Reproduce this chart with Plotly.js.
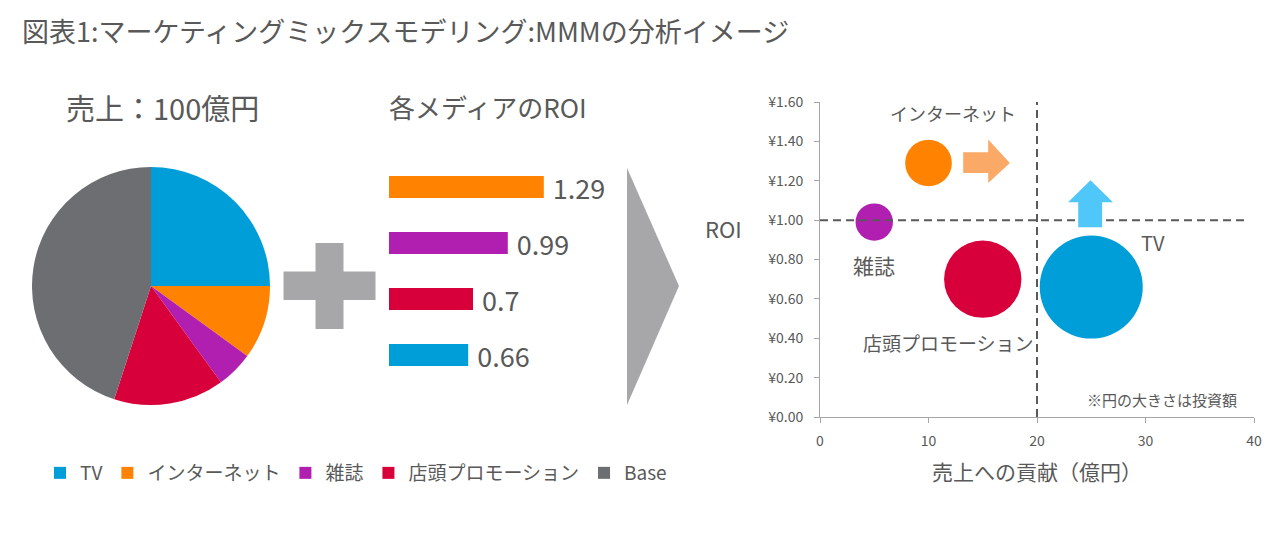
<!DOCTYPE html>
<html>
<head>
<meta charset="utf-8">
<script src="https://cdn.plot.ly/plotly-3.0.1.min.js"></script>
<style>html,body{margin:0;padding:0;background:#fff;}#chart{width:1283px;height:534px;}</style>
</head>
<body>
<div id="chart"></div>
<script>
// ---- data ----
var mediaNames = ['TV', 'インターネット', '雑誌', '店頭プロモーション', 'Base'];
var salesShare = [25, 10, 5, 15, 45];                 // 売上 100億円 の内訳
var roiNames = ['インターネット', '雑誌', '店頭プロモーション', 'TV'];
var roiValues = [1.29, 0.99, 0.70, 0.66];
var bubbleNames = ['TV', 'インターネット', '雑誌', '店頭プロモーション'];
var contribution = [25, 10, 5, 15];                   // 売上への貢献（億円）
var bubbleRoi = [0.66, 1.29, 0.99, 0.70];
var investment = [38, 7.8, 5.0, 21.4];                // 円の大きさ = 投資額
var bubbleLabels = ['TV', 'インターネット', '雑誌', '店頭プロモーション'];
var yTicks = [0, 0.2, 0.4, 0.6, 0.8, 1.0, 1.2, 1.4, 1.6];
var xTicks = [0, 10, 20, 30, 40];

// ---- styles ----
var FONT = '"Noto Sans CJK JP", "Noto Sans", sans-serif';
var TXT = '#595959';
var colorMap = {'TV': '#009ED8', 'インターネット': '#FF8200', '雑誌': '#B01FAF', '店頭プロモーション': '#D7003A', 'Base': '#6D6E71'};
var W = 1283, H = 534;
function px(x) { return x / W; }
function py(y) { return 1 - y / H; }

var traces = [];
traces.push({
  type: 'pie', labels: mediaNames, values: salesShare,
  marker: {colors: mediaNames.map(function (n) { return colorMap[n]; }), line: {width: 0}},
  sort: false, direction: 'clockwise', rotation: 0, textinfo: 'none', hoverinfo: 'label+percent',
  domain: {x: [px(32), px(270)], y: [py(405), py(167)]}, showlegend: true
});
traces.push({
  type: 'bar', orientation: 'h', x: roiValues, y: roiNames, xaxis: 'x2', yaxis: 'y2',
  marker: {color: roiNames.map(function (n) { return colorMap[n]; })},
  text: roiValues.map(function (v) { return ' ' + String(v); }), textposition: 'outside', cliponaxis: false,
  constraintext: 'none',
  textfont: {size: 27, color: TXT, family: FONT}, showlegend: false, hoverinfo: 'x+y'
});
traces.push({
  type: 'scatter', mode: 'markers', x: contribution, y: bubbleRoi, xaxis: 'x', yaxis: 'y',
  marker: {size: investment, sizemode: 'area', sizeref: 0.00716, color: bubbleNames.map(function (n) { return colorMap[n]; }), opacity: 1, line: {width: 0}},
  text: bubbleNames, hoverinfo: 'text+x+y', showlegend: false, cliponaxis: false
});

var ann = [];
ann.push({xref: 'paper', yref: 'paper', x: px(162), y: py(107), text: '売上：100億円', showarrow: false, font: {size: 29, color: TXT, family: FONT}, xanchor: 'center', yanchor: 'middle'});
ann.push({xref: 'paper', yref: 'paper', x: px(488), y: py(107), text: '各メディアのROI', showarrow: false, font: {size: 26, color: TXT, family: FONT}, xanchor: 'center', yanchor: 'middle'});
ann.push({xref: 'paper', yref: 'paper', x: px(723), y: py(228), text: 'ROI', showarrow: false, font: {size: 22, color: TXT, family: FONT}, xanchor: 'center', yanchor: 'middle'});
var labelPos = [[30.7, 0.888], [12.26, 1.543], [4.98, 0.772], [11.8, 0.376]];
var labelSize = [20, 18, 21, 19];
for (var i = 0; i < bubbleLabels.length; i++) {
  ann.push({xref: 'x', yref: 'y', x: labelPos[i][0], y: labelPos[i][1], text: bubbleLabels[i], showarrow: false, font: {size: labelSize[i], color: TXT, family: FONT}, xanchor: 'center', yanchor: 'middle'});
}
ann.push({xref: 'x', yref: 'y', x: 31.5, y: 0.091, text: '※円の大きさは投資額', showarrow: false, font: {size: 15, color: TXT, family: FONT}, xanchor: 'center', yanchor: 'middle'});

var GRAY = '#A7A7AA';
var shapes = [
  // plus sign
  {type: 'rect', xref: 'paper', yref: 'paper', x0: px(283.5), x1: px(375.5), y0: py(300), y1: py(271.5), fillcolor: GRAY, line: {width: 0}},
  {type: 'rect', xref: 'paper', yref: 'paper', x0: px(315.5), x1: px(343.5), y0: py(329), y1: py(243), fillcolor: GRAY, line: {width: 0}},
  // big chevron triangle
  {type: 'path', xref: 'paper', yref: 'paper', path: 'M' + px(627) + ',' + py(168) + ' L' + px(679) + ',' + py(286) + ' L' + px(627) + ',' + py(405) + ' Z', fillcolor: GRAY, line: {width: 0}},
  // dashed reference lines
  {type: 'line', xref: 'x', yref: 'y', x0: 20, x1: 20, y0: 0, y1: 1.625, line: {color: '#595959', width: 2, dash: '8px,5px'}},
  {type: 'line', xref: 'x', yref: 'y', x0: 0, x1: 39.5, y0: 1.0, y1: 1.0, line: {color: '#595959', width: 2, dash: '8px,5px'}},
  // orange right arrow
  {type: 'path', xref: 'x', yref: 'y', path: 'M13.2,1.24 L15.5,1.24 L15.5,1.188 L17.5,1.29 L15.5,1.41 L15.5,1.345 L13.2,1.345 Z', fillcolor: '#FAA966', line: {width: 0}},
  // blue up arrow
  {type: 'path', xref: 'x', yref: 'y', path: 'M23.8,0.964 L23.8,1.091 L22.86,1.091 L24.93,1.203 L27.0,1.091 L26.0,1.091 L26.0,0.964 Z', fillcolor: '#4FC7F8', line: {width: 0}}
];

var layout = {
  width: W, height: H,
  margin: {l: 0, r: 0, t: 0, b: 0},
  paper_bgcolor: '#fff', plot_bgcolor: 'rgba(0,0,0,0)',
  font: {family: FONT, color: TXT},
  title: {text: '図表1:マーケティングミックスモデリング:MMMの分析イメージ', x: px(22), xanchor: 'left', xref: 'paper', y: py(33), yanchor: 'middle', yref: 'paper', font: {size: 27, color: TXT, family: FONT}},
  showlegend: true,
  legend: {orientation: 'h', x: px(40), xanchor: 'left', y: py(473), yanchor: 'middle', font: {size: 19, color: TXT, family: FONT}, bgcolor: 'rgba(0,0,0,0)', traceorder: 'normal', itemwidth: 30},
  bargap: 0.61,
  xaxis: {domain: [px(820), px(1254)], range: [0, 40], tickvals: xTicks, ticktext: xTicks.map(String), showgrid: false, zeroline: false,
    showline: true, linecolor: '#A6A6A6', linewidth: 1, ticks: 'outside', ticklen: 5, tickcolor: '#A6A6A6', tickfont: {size: 14, color: TXT, family: FONT},
    ticklabelstandoff: 6, automargin: false, fixedrange: true,
    title: {text: '売上への貢献（億円）', font: {size: 21, color: TXT, family: FONT}, standoff: 16}},
  yaxis: {domain: [py(417), py(102)], range: [0, 1.6], tickvals: yTicks, ticktext: yTicks.map(function (v) { return '¥' + v.toFixed(2); }), showgrid: false, zeroline: false,
    showline: true, linecolor: '#A6A6A6', linewidth: 1, ticks: 'outside', ticklen: 5, tickcolor: '#A6A6A6', tickfont: {size: 14, color: TXT, family: FONT},
    ticklabelstandoff: 8, automargin: false, fixedrange: true},
  xaxis2: {domain: [px(389), px(581)], range: [0, 1.6], visible: false, fixedrange: true, anchor: 'y2'},
  yaxis2: {domain: [py(383), py(159)], range: [3.5, -0.5], type: 'category', visible: false, fixedrange: true, anchor: 'x2'},
  annotations: ann,
  shapes: shapes
};

Plotly.newPlot('chart', traces, layout, {displayModeBar: false});
</script>
</body>
</html>
